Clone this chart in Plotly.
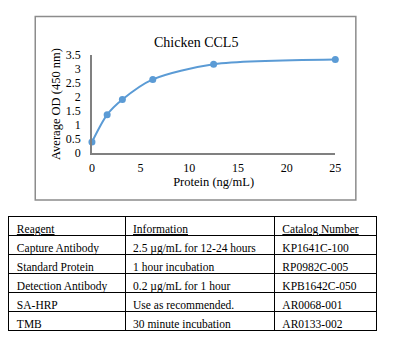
import plotly.graph_objects as go

protein = [0, 1.5625, 3.125, 6.25, 12.5, 25]
od = [0.39, 1.37, 1.91, 2.63, 3.17, 3.34]

reagents = ["Capture Antibody", "Standard Protein", "Detection Antibody", "SA-HRP", "TMB"]
information = ["2.5 µg/mL for 12-24 hours", "1 hour incubation", "0.2 µg/mL for 1 hour",
               "Use as recommended.", "30 minute incubation"]
catalog = ["KP1641C-100", "RP0982C-005", "KPB1642C-050", "AR0068-001", "AR0133-002"]
headers = ["Reagent", "Information", "Catalog Number"]

W, H = 398, 356
SERIF = "Liberation Serif, Times New Roman, serif"

fig = go.Figure()
fig.add_trace(go.Scatter(
    x=protein, y=od, mode="lines+markers",
    line=dict(color="#5b9bd5", width=2, shape="spline", smoothing=0.8),
    marker=dict(color="#5b9bd5", size=7),
    cliponaxis=False, showlegend=False,
))

fig.add_trace(go.Table(
    domain=dict(x=[6 / W, 383 / W], y=[0.0, 1 - 218 / H]),
    columnwidth=[119, 153, 105],
    header=dict(values=headers,
                align="left", height=19,
                line=dict(color="black", width=1), fill=dict(color="white"),
                font=dict(family=SERIF, size=11.5, color="black", lineposition="under")),
    cells=dict(values=[reagents, information, catalog],
               align="left", height=19,
               line=dict(color="black", width=1), fill=dict(color="white"),
               font=dict(family=SERIF, size=11.5, color="black")),
))

fig.update_layout(
    width=W, height=H,
    margin=dict(l=0, r=0, t=0, b=0),
    paper_bgcolor="white", plot_bgcolor="white",
    font=dict(family=SERIF, size=12, color="black"),
    xaxis=dict(domain=[91 / W, 340 / W], range=[0, 25], tickvals=[0, 5, 10, 15, 20, 25],
               showgrid=False, zeroline=False, showline=True, linecolor="#808080", linewidth=1.5,
               ticks="", tickfont=dict(family=SERIF, size=12), ticklabelstandoff=3,
               title=dict(text="Protein (ng/mL)", font=dict(family=SERIF, size=12.5), standoff=2)),
    yaxis=dict(domain=[1 - 152 / H, 1 - 50 / H], range=[0, 3.5], dtick=0.5,
               showgrid=False, zeroline=False, showline=True, linecolor="#808080", linewidth=1.5,
               ticks="", tickfont=dict(family=SERIF, size=12), ticklabelstandoff=7,
               title=dict(text="Average OD (450 nm)", font=dict(family=SERIF, size=12.5), standoff=2)),
    shapes=[dict(type="rect", xref="paper", yref="paper",
                 x0=33 / W, x1=361 / W, y0=1 - 201 / H, y1=1 - 10 / H,
                 line=dict(color="#8c8c8c", width=1.5))],
    annotations=[dict(text="Chicken CCL5", xref="paper", yref="paper",
                      x=197 / W, y=1 - 27 / H, showarrow=False,
                      font=dict(family=SERIF, size=14, color="black"))],
)

fig.write_html("out.html")
